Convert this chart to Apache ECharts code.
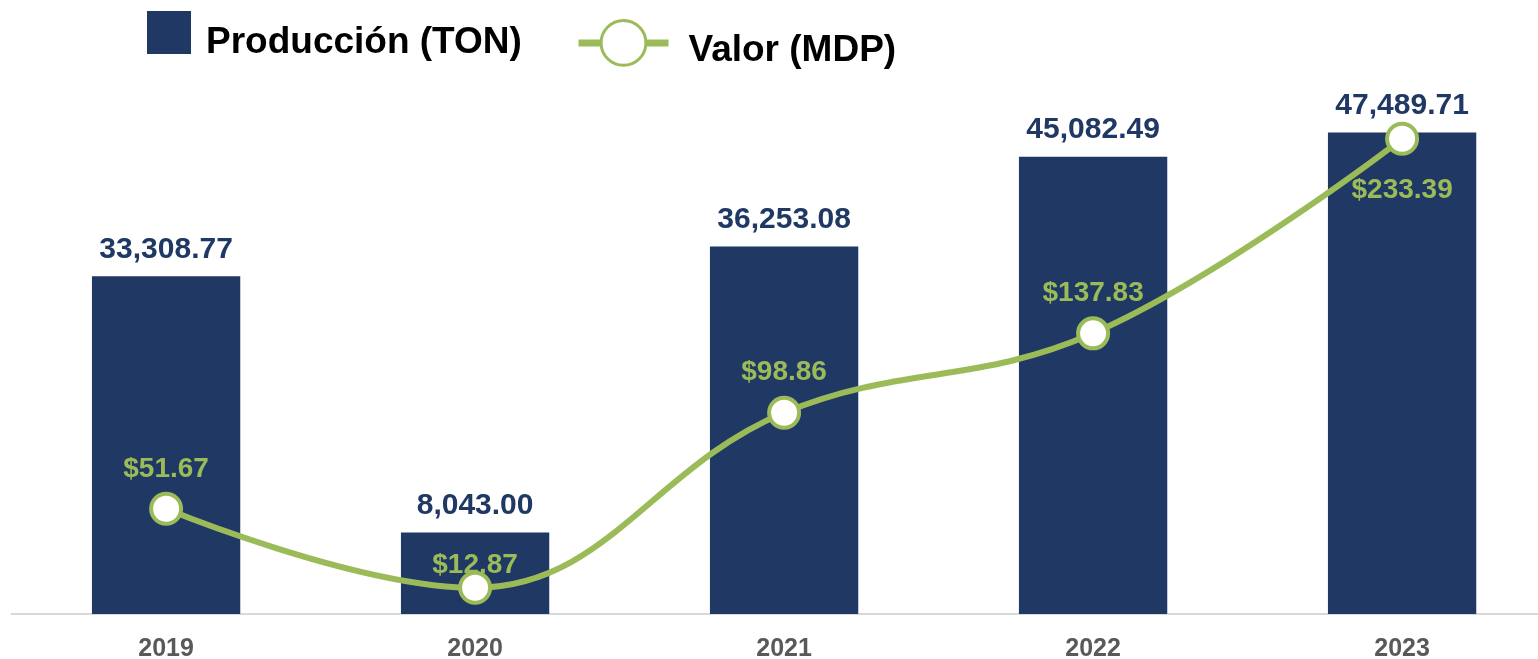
<!DOCTYPE html>
<html>
<head>
<meta charset="utf-8">
<script src="https://cdn.jsdelivr.net/npm/echarts@6/dist/echarts.min.js"></script>
<style>
  html, body { margin: 0; padding: 0; background: #fff; }
  #chart { width: 1538px; height: 659px; }
</style>
</head>
<body>
<div id="chart"></div>
<script>
// datos
const years = ['2019', '2020', '2021', '2022', '2023']
const produccion = [33308.77, 8043.0, 36253.08, 45082.49, 47489.71]
const valor = [51.67, 12.87, 98.86, 137.83, 233.39]
// posicion de la etiqueta de cada punto de la linea
const valorLabelPos = ['top', 'top', 'top', 'top', 'bottom']
const valorLabelDist = [9, -8, 9, 9, 20]

const navy = '#1f3864'
const green = '#9bbb59'
const font = 'Liberation Sans, Arial, sans-serif'

const chart = echarts.init(document.getElementById('chart'))

const fmtNum = (v) =>
  v.toLocaleString('en-US', { minimumFractionDigits: 2, maximumFractionDigits: 2 })

// texto de leyenda algo mas abajo que el icono
const legendText = (padTop) => ({
  fontFamily: font,
  rich: {
    t: {
      fontSize: 37,
      fontWeight: 'bold',
      color: '#000',
      fontFamily: font,
      padding: [padTop, 0, 0, 0],
    },
  },
})

const option = {
  animation: false,
  textStyle: { fontFamily: font },
  legend: [
    {
      data: [{ name: 'Producción (TON)', icon: 'rect' }],
      left: 142,
      top: 6,
      itemWidth: 44,
      itemHeight: 43,
      itemGap: 0,
      formatter: (name) => '{t|' + name + '}',
      textStyle: Object.assign(legendText(20), { padding: [0, 0, 0, 10] }),
    },
    {
      data: ['Valor (MDP)'],
      left: 570,
      top: 14,
      itemWidth: 90,
      itemHeight: 56,
      lineStyle: { width: 7 },
      itemStyle: { borderWidth: 3 },
      formatter: (name) => '{t|' + name + '}',
      textStyle: Object.assign(legendText(16), { padding: [0, 0, 0, 15] }),
    },
  ],
  grid: {
    left: 11.6,
    width: 1545,
    top: 107,
    bottom: 45,
    outerBoundsMode: 'none',
    containLabel: false,
  },
  xAxis: {
    type: 'category',
    data: years,
    axisLine: { lineStyle: { color: '#d9d9d9', width: 2 } },
    axisTick: { show: false },
    axisLabel: {
      color: '#595959',
      fontSize: 25,
      fontWeight: 'bold',
      margin: 23,
      fontFamily: font,
    },
  },
  yAxis: [
    { type: 'value', min: 0, max: 50000, show: false, splitLine: { show: false } },
    { type: 'value', min: 0, max: 249, show: false, splitLine: { show: false } },
  ],
  series: [
    {
      name: 'Producción (TON)',
      type: 'bar',
      data: produccion,
      barWidth: '48%',
      itemStyle: { color: navy },
      label: {
        show: true,
        position: 'top',
        distance: 12,
        color: navy,
        fontSize: 30,
        fontWeight: 'bold',
        fontFamily: font,
        formatter: (p) => fmtNum(p.value),
      },
    },
    {
      name: 'Valor (MDP)',
      type: 'line',
      yAxisIndex: 1,
      smooth: 0.4,
      data: valor.map((v, i) => ({
        value: v,
        label: { position: valorLabelPos[i], distance: valorLabelDist[i] },
      })),
      symbol: 'circle',
      symbolSize: 30,
      lineStyle: { color: green, width: 6 },
      itemStyle: { color: '#fff', borderColor: green, borderWidth: 4 },
      label: {
        show: true,
        color: green,
        fontSize: 28,
        fontWeight: 'bold',
        fontFamily: font,
        formatter: (p) => '$' + fmtNum(p.value),
      },
      z: 5,
    },
  ],
}

chart.setOption(option)
</script>
</body>
</html>
